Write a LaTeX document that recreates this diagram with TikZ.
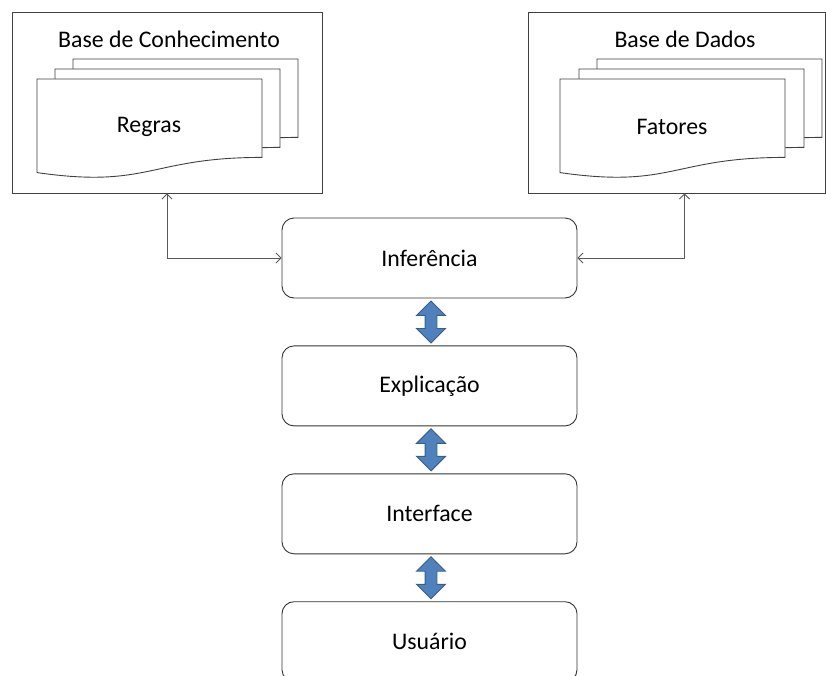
\documentclass[tikz,border=0pt]{standalone}
\usepackage{fontspec}
\setmainfont{Carlito}
\usetikzlibrary{positioning,arrows.meta,shapes.arrows,calc}
\definecolor{arrowfill}{HTML}{4F81BD}
\definecolor{arrowline}{HTML}{385D8A}

% one paper of a stack, top left corner at (#1,#2)
\newcommand\docsheet[2]{%
  \begin{scope}[shift={(#1,#2)},x=225pt,y=-98pt]
    \filldraw[sheet] (0,0) -- (1,0) -- (1,0.8)
      .. controls (0.5,0.8) and (0.5,1.12) .. (0,0.955) -- cycle;
  \end{scope}}

\begin{document}
\begin{tikzpicture}[x=1pt,y=-1pt,
			node distance=47pt,
			font=\fontsize{23.8pt}{28pt}\selectfont,
			layer/.style={
				draw=black!80,
				rounded corners=12pt,
				minimum width=295pt,
				minimum height=80pt,
				inner sep=0pt,
				line width=0.9pt
			},
			store/.style={draw=black!75, minimum height=181pt, inner sep=0pt, line width=0.9pt},
			sheet/.style={draw=black!75, fill=white, line width=0.9pt},
			link/.style={draw=black!65, line width=0.9pt,
				{Straight Barb[length=5pt,width=10pt]}-{Straight Barb[length=5pt,width=10pt]}},
			flow/.style={double arrow, shape border rotate=90, fill=arrowfill, draw=arrowline,
				line width=0.9pt, inner sep=5.5pt, minimum width=28pt, minimum height=42pt,
				double arrow head extend=8.5pt}]
			
			\useasboundingbox (0,0) rectangle (826,675);
			
			% knowledge base and data base
			\node[store, minimum width=310pt] (kb) at (167,102.5){};
			\node[store, minimum width=297pt] (db) at (676.5,102.5){};
			
			\node (kbtitle) at (169,39){Base de Conhecimento};
			\node (dbtitle) at (685,39){Base de Dados};
			
			\docsheet{73}{59}
			\docsheet{55}{69}
			\docsheet{37}{79}
			\docsheet{597}{59}
			\docsheet{579}{69}
			\docsheet{560}{79}
			
			\node (rules) at (149,127){Regras};
			\node (facts) at (672,127){Fatores};
			
			% layers
			\node[layer] (inf) at (429.5,258){Inferência};
			
			\node[layer] (exp)[below=of inf]{Explicação};
			
			\node[layer] (ui)[below=of exp]{Interface};
			
			\node[layer] (user)[below=of ui]{Usuário};
			
			\draw[link](kb.south) |- (inf.west);
			
			\draw[link]([xshift=8pt]db.south) |- (inf.east);
			
			\node[flow] (f1) at ($(inf.south)!0.5!(exp.north)+(1.5,0)$){};
			
			\node[flow] (f2) at ($(exp.south)!0.5!(ui.north)+(1.5,0)$){};
			
			\node[flow] (f3) at ($(ui.south)!0.5!(user.north)+(1.5,0)$){};
			
		\end{tikzpicture}
\end{document}
